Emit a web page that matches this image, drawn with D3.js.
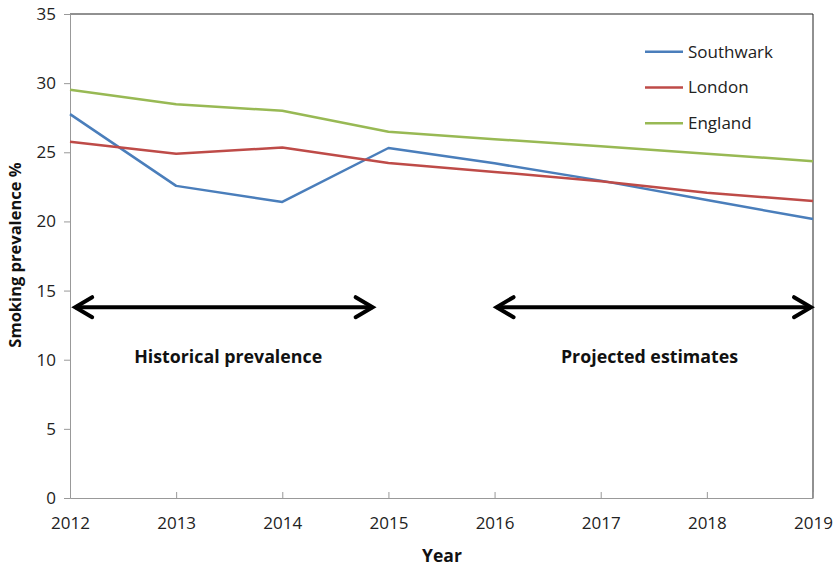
<!DOCTYPE html>
<html><head><meta charset="utf-8">
<script src="https://cdn.jsdelivr.net/npm/d3@7"></script>
<style>body{margin:0;background:#fff}svg{display:block}text{font-family:"Open Sans",sans-serif}</style>
</head><body>
<svg id="c" width="837" height="567"></svg>
<script>
const years = [2012, 2013, 2014, 2015, 2016, 2017, 2018, 2019];
const southwark = [27.76, 22.57, 21.41, 25.31, 24.2, 22.95, 21.55, 20.17];
const london = [25.77, 24.9, 25.34, 24.23, 23.58, 22.9, 22.07, 21.47];
const england = [29.52, 28.48, 28.0, 26.48, 25.95, 25.44, 24.9, 24.36];
const seriesNames = ["Southwark", "London", "England"];
const seriesColors = ["#4a7ebb", "#be4b48", "#98b954"];
const yTicks = [0, 5, 10, 15, 20, 25, 30, 35];
const arrowStart = [2012.03, 2016.0];
const arrowEnd = [2014.87, 2019.0];
const arrowLevel = 13.8;
const arrowLabels = ["Historical prevalence", "Projected estimates"];
const arrowLabelX = [2013.49, 2017.46];
const arrowLabelY = 10.2;

const svg = d3.select("#c");
const m = {l: 70, t: 14, r: 813, b: 498};
const x = d3.scaleLinear().domain([2012, 2019]).range([m.l, m.r]);
const y = d3.scaleLinear().domain([0, 35]).range([m.b, m.t]);

svg.append("path").attr("d", `M${m.l},${m.t}H${m.r}V${m.b}`).attr("fill","none").attr("stroke","#222").attr("stroke-width",1);

const ya = svg.append("g").attr("transform", `translate(${m.l},0)`).call(d3.axisLeft(y).tickValues(yTicks).tickSize(6).tickPadding(8));
ya.select(".domain").attr("stroke","#999");
ya.selectAll(".tick line").attr("stroke","#999");
ya.selectAll("text").attr("font-size",17).attr("fill","#222").attr("font-family","'Open Sans',sans-serif");

const xa = svg.append("g").attr("transform", `translate(0,${m.b})`).call(d3.axisBottom(x).tickValues(years).tickFormat(d3.format("d")).tickSizeInner(-6).tickSizeOuter(0).tickPadding(19));
xa.select(".domain").attr("stroke","#999");
xa.selectAll(".tick line").attr("stroke","#999");
xa.selectAll("text").attr("font-size",17).attr("fill","#222").attr("font-family","'Open Sans',sans-serif");

const data = [southwark, london, england];
const line = d3.line().x((d,i)=>x(years[i])).y(d=>y(d));
data.forEach((s,k)=>{
  svg.append("path").datum(s).attr("d", line).attr("fill","none").attr("stroke", seriesColors[k]).attr("stroke-width",2.5).attr("stroke-linejoin","round");
});

seriesNames.forEach((n,k)=>{
  const ly = 51.7 + k*35.8;
  svg.append("line").attr("x1",645).attr("x2",683).attr("y1",ly).attr("y2",ly).attr("stroke",seriesColors[k]).attr("stroke-width",2.5);
  svg.append("text").attr("x",688).attr("y",ly).attr("dy","0.35em").attr("font-size",17).attr("fill","#222").text(n);
});

arrowStart.forEach((s,k)=>{
  const x1 = x(s), x2 = x(arrowEnd[k]), yy = y(arrowLevel);
  svg.append("line").attr("x1",x1+2).attr("x2",x2-2).attr("y1",yy).attr("y2",yy).attr("stroke","#000").attr("stroke-width",4);
  svg.append("path").attr("d",`M${x1+19},${yy-10}L${x1+2},${yy}L${x1+19},${yy+10}`).attr("fill","none").attr("stroke","#000").attr("stroke-width",4).attr("stroke-linecap","round");
  svg.append("path").attr("d",`M${x2-19},${yy-10}L${x2-2},${yy}L${x2-19},${yy+10}`).attr("fill","none").attr("stroke","#000").attr("stroke-width",4).attr("stroke-linecap","round");
  svg.append("text").attr("x",x(arrowLabelX[k])).attr("y",y(arrowLabelY)).attr("dy","0.35em").attr("text-anchor","middle").attr("font-size",17.8).attr("font-weight","bold").attr("fill","#111").text(arrowLabels[k]);
});

svg.append("text").attr("x",442).attr("y",556).attr("dy","0.35em").attr("text-anchor","middle").attr("font-size",17.5).attr("font-weight","bold").attr("fill","#111").text("Year");
svg.append("text").attr("transform","translate(15,255) rotate(-90)").attr("dy","0.35em").attr("text-anchor","middle").attr("font-size",16.5).attr("font-weight","bold").attr("fill","#111").text("Smoking prevalence %");
</script>
</body></html>
